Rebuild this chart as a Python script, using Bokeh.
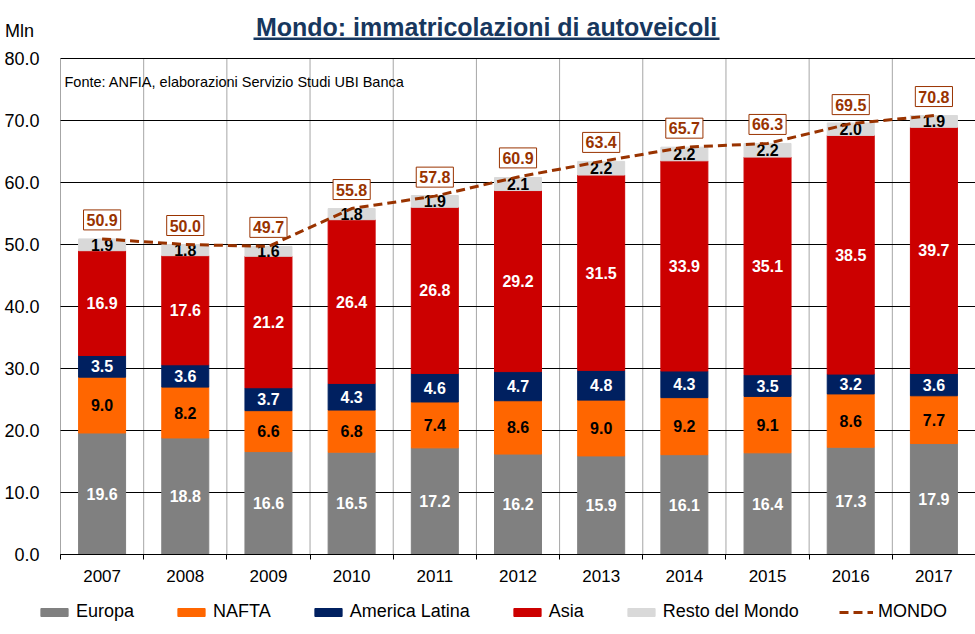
from bokeh.plotting import figure
from bokeh.models import (ColumnDataSource, FixedTicker, Range1d, Legend, LegendItem,
                          Label, PrintfTickFormatter)
from bokeh.core.properties import value
from bokeh.embed import file_html
from bokeh.resources import INLINE

# ---------------- data ----------------
title_text = "Mondo: immatricolazioni di autoveicoli"
unit_text = "Mln"
source_text = "Fonte: ANFIA, elaborazioni Servizio Studi UBI Banca"
years = ["2007", "2008", "2009", "2010", "2011", "2012", "2013", "2014", "2015", "2016", "2017"]
europa = [19.6, 18.8, 16.6, 16.5, 17.2, 16.2, 15.9, 16.1, 16.4, 17.3, 17.9]
nafta = [9.0, 8.2, 6.6, 6.8, 7.4, 8.6, 9.0, 9.2, 9.1, 8.6, 7.7]
america_latina = [3.5, 3.6, 3.7, 4.3, 4.6, 4.7, 4.8, 4.3, 3.5, 3.2, 3.6]
asia = [16.9, 17.6, 21.2, 26.4, 26.8, 29.2, 31.5, 33.9, 35.1, 38.5, 39.7]
resto = [1.9, 1.8, 1.6, 1.8, 1.9, 2.1, 2.2, 2.2, 2.2, 2.0, 1.9]
mondo = [50.9, 50.0, 49.7, 55.8, 57.8, 60.9, 63.4, 65.7, 66.3, 69.5, 70.8]
y_ticks = [0, 10, 20, 30, 40, 50, 60, 70, 80]

series_names = ["Europa", "NAFTA", "America Latina", "Asia", "Resto del Mondo"]
series_values = [europa, nafta, america_latina, asia, resto]
series_colors = ["#808080", "#FF6600", "#002060", "#CC0000", "#D9D9D9"]
label_colors = ["white", "black", "white", "white", "black"]
BROWN = "#993300"
NAVY = "#17375E"
FONT = "Liberation Sans"

# ---------------- layout constants (page px) ----------------
W, H = 975, 634
PL, PR, PT, PB = 60, 975, 58, 554    # plotting area edges
NX = len(years)
YMAX = y_ticks[-1]
PXX = (PR - PL) / NX                 # px per category
PXY = (PB - PT) / YMAX               # px per unit


def dx(px):
    return -0.5 + (px - PL) / PXX


def dy(py):
    return (PB - py) / PXY


x = list(range(NX))
data = {"x": x}
for n, v in zip(series_names, series_values):
    data[n] = v
src = ColumnDataSource(data)

p = figure(width=W, height=H, x_range=Range1d(dx(0), dx(W)), y_range=Range1d(dy(H), dy(0)),
           min_border=0, output_backend="svg", toolbar_location=None,
           background_fill_color="white", border_fill_color="white")
p.outline_line_color = None
p.grid.visible = False

# grid lines limited to the plotting area
bounds_x = [i - 0.5 for i in range(NX + 1)]
p.segment(x0=bounds_x, y0=[0] * len(bounds_x), x1=bounds_x, y1=[YMAX] * len(bounds_x),
          line_color="#A6A6A6", line_width=1)
p.segment(x0=[-0.5] * len(y_ticks), y0=y_ticks, x1=[NX - 0.5] * len(y_ticks), y1=y_ticks,
          line_color="black", line_width=1)

bars = p.vbar_stack(series_names, x="x", width=0.565, color=series_colors, source=src)

# segment value labels
lx, ly, lt, lc = [], [], [], []
bottoms = [0.0] * NX
for vals, col in zip(series_values, label_colors):
    for i, v in enumerate(vals):
        lx.append(i)
        ly.append(bottoms[i] + v / 2)
        lt.append(f"{v:.1f}")
        lc.append(col)
        bottoms[i] += v
p.text(x=lx, y=ly, text=lt, text_color=lc, text_align="center", text_baseline="middle",
       text_font=value(FONT), text_font_style="bold", text_font_size="16px")

line = p.line(x, mondo, line_color=BROWN, line_width=3, line_dash="9 5")

for i, m in enumerate(mondo):
    p.add_layout(Label(x=i, y=m + 19 / PXY, text=f"{m:.1f}", text_align="center",
                       text_baseline="middle", text_font=FONT, text_font_style="bold",
                       text_font_size="16px", text_color=BROWN,
                       border_line_color=BROWN, border_line_width=1,
                       background_fill_color="white", padding=(3, 4)))

# axes (placed at the plotting-area edges)
p.xaxis.fixed_location = 0
p.xaxis.bounds = (-0.5, NX - 0.5)
p.xaxis.ticker = FixedTicker(ticks=x, minor_ticks=bounds_x)
p.xaxis.major_label_overrides = {i: y for i, y in enumerate(years)}
p.xaxis.major_tick_line_color = None
p.xaxis.major_tick_out = 0
p.xaxis.major_tick_in = 0
p.xaxis.minor_tick_line_color = "black"
p.xaxis.minor_tick_out = 5
p.xaxis.minor_tick_in = 0
p.xaxis.axis_line_color = "black"
p.xaxis.major_label_standoff = 10
p.xaxis.major_label_text_font = FONT
p.xaxis.major_label_text_font_size = "17px"
p.xaxis.major_label_text_color = "black"

p.yaxis.fixed_location = -0.5
p.yaxis.bounds = (0, YMAX)
p.yaxis.ticker = FixedTicker(ticks=y_ticks)
p.yaxis.formatter = PrintfTickFormatter(format="%.1f")
p.yaxis.axis_line_color = None
p.yaxis.major_tick_line_color = None
p.yaxis.minor_tick_line_color = None
p.yaxis.major_tick_out = 0
p.yaxis.major_tick_in = 0
p.yaxis.major_label_standoff = 21
p.yaxis.major_label_text_font = FONT
p.yaxis.major_label_text_font_size = "18px"
p.yaxis.major_label_text_color = "black"

# title, unit, source
p.text(x=[dx(486)], y=[dy(26)], text=[title_text], text_align="center",
       text_baseline="middle", text_font=value(FONT), text_font_style="bold",
       text_font_size="25px", text_color=NAVY)
p.quad(left=[dx(253)], right=[dx(719)], top=[dy(37)], bottom=[dy(39.5)],
       fill_color=NAVY, line_color=None)
p.text(x=[dx(19)], y=[dy(30)], text=[unit_text], text_align="center",
       text_baseline="middle", text_font=value(FONT), text_font_size="18px",
       text_color="black")
p.text(x=[dx(64)], y=[dy(81)], text=[source_text], text_align="left",
       text_baseline="middle", text_font=value(FONT), text_font_size="14.5px",
       text_color="black")

items = [LegendItem(label=n, renderers=[r]) for n, r in zip(series_names, bars)]
items.append(LegendItem(label="MONDO", renderers=[line]))
legend = Legend(items=items, orientation="horizontal", location=(37, H - 622),
                glyph_width=34, glyph_height=10, label_standoff=5, spacing=40,
                padding=0, margin=0, border_line_color=None, background_fill_alpha=0,
                label_text_font=FONT, label_text_font_size="18px", label_text_color="black")
p.add_layout(legend, "center")

open("out.html", "w").write(file_html(p, INLINE))
